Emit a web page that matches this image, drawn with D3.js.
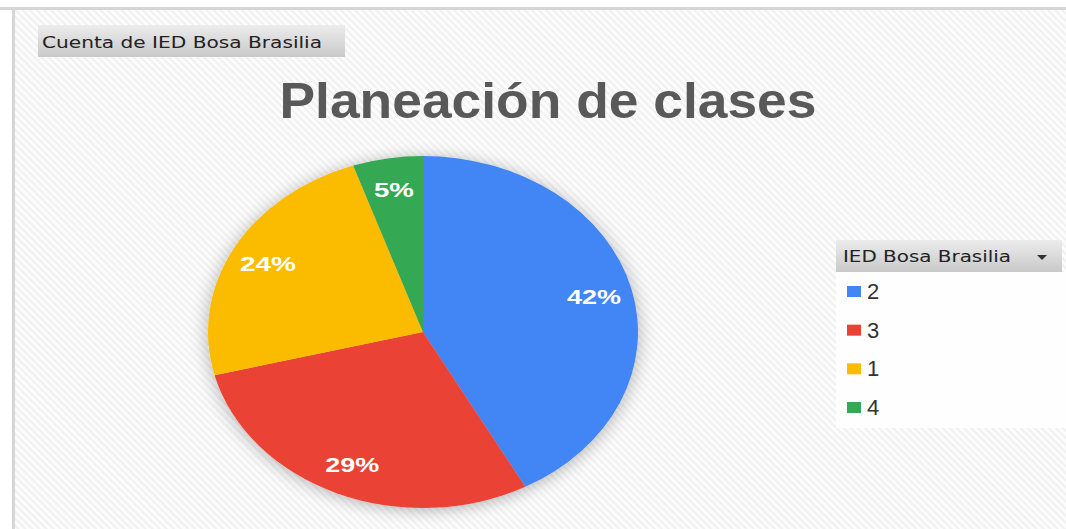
<!DOCTYPE html>
<html>
<head>
<meta charset="utf-8">
<script src="https://cdn.jsdelivr.net/npm/d3@7"></script>
<style>
  body { margin: 0; background: #fff; }
  svg { display: block; }
</style>
</head>
<body>
<div class="chart"></div>
<script>
// data
const categories = ["2", "3", "1", "4"]
const counts = [16, 11, 9, 2]
const colors = ["#4285F4", "#EA4335", "#FBBC04", "#34A853"]
const pctLabels = ["42%", "29%", "24%", "5%"]
const title = "Planeación de clases"
const fieldButton = "Cuenta de IED Bosa Brasilia"
const legendTitle = "IED Bosa Brasilia"

const w = 1066
const h = 529

const svg = d3.select(".chart")
  .append("svg")
  .attr("width", w)
  .attr("height", h)

const defs = svg.append("defs")

// striped background
const pat = defs.append("pattern")
  .attr("id", "stripes")
  .attr("width", 5)
  .attr("height", 5)
  .attr("patternUnits", "userSpaceOnUse")
  .attr("patternTransform", "rotate(45)")
pat.append("rect").attr("width", 5).attr("height", 5).attr("fill", "#fdfdfd")
pat.append("rect").attr("width", 5).attr("height", 2.2).attr("fill", "#f1f1f1")

// button gradient
const grad = defs.append("linearGradient")
  .attr("id", "btn").attr("x1", 0).attr("y1", 0).attr("x2", 0).attr("y2", 1)
grad.append("stop").attr("offset", "0%").attr("stop-color", "#ececec")
grad.append("stop").attr("offset", "100%").attr("stop-color", "#c9c9c9")

// pie shadow
const shadow = defs.append("filter")
  .attr("id", "shadow")
  .attr("x", "-20%").attr("y", "-20%").attr("width", "140%").attr("height", "140%")
shadow.append("feGaussianBlur").attr("in", "SourceAlpha").attr("stdDeviation", 8).attr("result", "blur")
shadow.append("feOffset").attr("in", "blur").attr("dx", 0).attr("dy", 2).attr("result", "off")
shadow.append("feComponentTransfer").attr("in", "off").attr("result", "soft")
  .append("feFuncA").attr("type", "linear").attr("slope", 0.3)
const merge = shadow.append("feMerge")
merge.append("feMergeNode").attr("in", "soft")
merge.append("feMergeNode").attr("in", "SourceGraphic")

// frame
svg.append("rect").attr("x", 0).attr("y", 7).attr("width", w).attr("height", 3).attr("fill", "#d6d6d6")
svg.append("rect").attr("x", 12).attr("y", 7).attr("width", 3).attr("height", h - 7).attr("fill", "#d6d6d6")
svg.append("rect").attr("x", 15).attr("y", 10).attr("width", w - 15).attr("height", h - 10).attr("fill", "url(#stripes)")

// field button
svg.append("rect")
  .attr("x", 38).attr("y", 25).attr("width", 307).attr("height", 32)
  .attr("fill", "url(#btn)")
svg.append("text")
  .attr("x", 42).attr("y", 48)
  .attr("font-family", "DejaVu Sans, Verdana, sans-serif")
  .attr("font-size", 15)
  .attr("fill", "#222")
  .attr("textLength", 280)
  .attr("lengthAdjust", "spacingAndGlyphs")
  .text(fieldButton)

// title
svg.append("text")
  .attr("x", 548).attr("y", 118)
  .attr("text-anchor", "middle")
  .attr("font-family", "Liberation Sans, Arial, sans-serif")
  .attr("font-weight", "bold")
  .attr("font-size", 50)
  .attr("fill", "#595959")
  .attr("textLength", 537)
  .attr("lengthAdjust", "spacingAndGlyphs")
  .text(title)

// pie (ellipse: circle scaled in x)
const cx = 423, cy = 332
const rx = 215, ry = 176
const sx = rx / ry

const pie = d3.pie().sort(null).value(d => d)
const arcs = pie(counts)
const arc = d3.arc().innerRadius(0).outerRadius(ry)
const labelArc = d3.arc().innerRadius(ry * 0.82).outerRadius(ry * 0.82)

const pieG = svg.append("g")
  .attr("transform", `translate(${cx},${cy}) scale(${sx},1)`)
  .attr("filter", "url(#shadow)")

pieG.selectAll("path")
  .data(arcs)
  .enter()
  .append("path")
  .attr("d", arc)
  .attr("fill", (d, i) => colors[i])

const labelWidths = [54, 54, 56, 40]
svg.selectAll(".pct")
  .data(arcs)
  .enter()
  .append("text")
  .attr("class", "pct")
  .attr("x", d => cx + labelArc.centroid(d)[0] * sx)
  .attr("y", d => cy + labelArc.centroid(d)[1])
  .attr("dy", "0.36em")
  .attr("text-anchor", "middle")
  .attr("font-family", "Liberation Sans, Arial, sans-serif")
  .attr("font-weight", "bold")
  .attr("font-size", 21)
  .attr("fill", "#fff")
  .attr("textLength", (d, i) => labelWidths[i])
  .attr("lengthAdjust", "spacingAndGlyphs")
  .text((d, i) => pctLabels[i])

// legend
const lg = svg.append("g").attr("transform", "translate(836,240)")
lg.append("rect").attr("x", 0).attr("y", 32).attr("width", 230).attr("height", 156).attr("fill", "#fefefe")
lg.append("rect").attr("x", 0).attr("y", 0).attr("width", 226).attr("height", 32).attr("fill", "url(#btn)")
lg.append("text")
  .attr("x", 7).attr("y", 22)
  .attr("font-family", "DejaVu Sans, Verdana, sans-serif")
  .attr("font-size", 15.5)
  .attr("fill", "#222")
  .attr("textLength", 168)
  .attr("lengthAdjust", "spacingAndGlyphs")
  .text(legendTitle)
lg.append("path")
  .attr("d", "M201,15 L211,15 L206,20 Z")
  .attr("fill", "#333")

const legendY = d3.scalePoint()
  .domain(categories)
  .range([51, 167])

const items = lg.selectAll(".item")
  .data(categories)
  .enter()
  .append("g")
  .attr("class", "item")
  .attr("transform", d => `translate(0,${legendY(d)})`)
items.append("rect")
  .attr("x", 11).attr("y", -5).attr("width", 14).attr("height", 11)
  .attr("fill", (d, i) => colors[i])
items.append("text")
  .attr("x", 31).attr("y", 8)
  .attr("font-family", "Liberation Sans, Arial, sans-serif")
  .attr("font-size", 22)
  .attr("fill", "#333")
  .text(d => d)
</script>
</body>
</html>
